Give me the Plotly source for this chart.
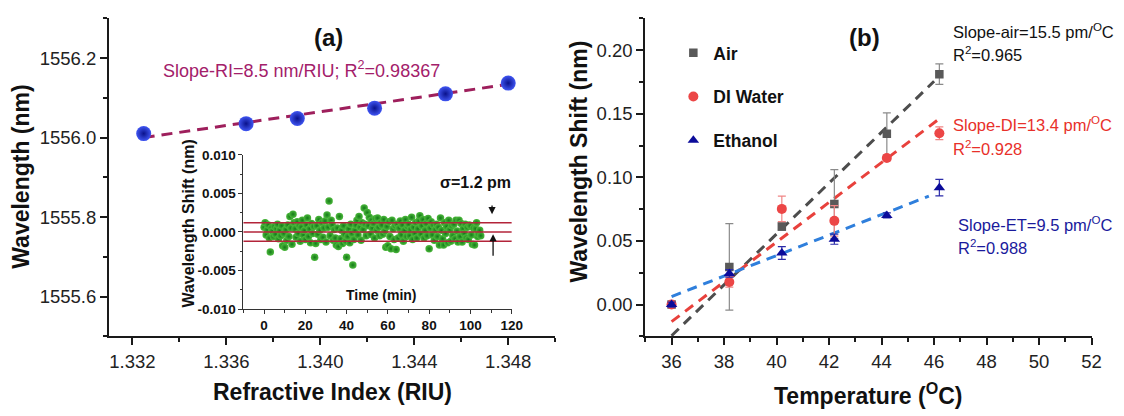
import plotly.graph_objects as go

W, H = 1124, 416
FONT = "Liberation Sans, Arial, sans-serif"

# ---------------- Panel (a): resonance wavelength vs refractive index ----------------
ri = [1.33248, 1.33684, 1.33902, 1.34231, 1.34533, 1.34800]
wavelength_nm = [1556.010, 1556.035, 1556.048, 1556.074, 1556.110, 1556.137]
ri_fit_x = [1.33248, 1.34800]
ri_fit_y = [1556.000, 1556.134]

# ---------------- Inset: wavelength stability over time ----------------
time_min = [
    0.0, 0.5, 1.0, 1.5, 2.0, 2.5, 3.0, 3.5, 4.0, 4.5,
    5.0, 5.5, 6.0, 6.5, 7.0, 7.5, 8.0, 8.5, 9.0, 9.5,
    10.0, 10.5, 11.0, 11.5, 12.0, 12.5, 13.0, 13.5, 14.0, 14.5,
    15.0, 15.5, 16.0, 16.5, 17.0, 17.5, 18.0, 18.5, 19.0, 19.5,
    20.0, 20.5, 21.0, 21.5, 22.0, 22.5, 23.0, 23.5, 24.0, 24.5,
    25.0, 25.5, 26.0, 26.5, 27.0, 27.5, 28.0, 28.5, 29.0, 29.5,
    30.0, 30.5, 31.0, 31.5, 32.0, 32.5, 33.0, 33.5, 34.0, 34.5,
    35.0, 35.5, 36.0, 36.5, 37.0, 37.5, 38.0, 38.5, 39.0, 39.5,
    40.0, 40.5, 41.0, 41.5, 42.0, 42.5, 43.0, 43.5, 44.0, 44.5,
    45.0, 45.5, 46.0, 46.5, 47.0, 47.5, 48.0, 48.5, 49.0, 49.5,
    50.0, 50.5, 51.0, 51.5, 52.0, 52.5, 53.0, 53.5, 54.0, 54.5,
    55.0, 55.5, 56.0, 56.5, 57.0, 57.5, 58.0, 58.5, 59.0, 59.5,
    60.0, 60.5, 61.0, 61.5, 62.0, 62.5, 63.0, 63.5, 64.0, 64.5,
    65.0, 65.5, 66.0, 66.5, 67.0, 67.5, 68.0, 68.5, 69.0, 69.5,
    70.0, 70.5, 71.0, 71.5, 72.0, 72.5, 73.0, 73.5, 74.0, 74.5,
    75.0, 75.5, 76.0, 76.5, 77.0, 77.5, 78.0, 78.5, 79.0, 79.5,
    80.0, 80.5, 81.0, 81.5, 82.0, 82.5, 83.0, 83.5, 84.0, 84.5,
    85.0, 85.5, 86.0, 86.5, 87.0, 87.5, 88.0, 88.5, 89.0, 89.5,
    90.0, 90.5, 91.0, 91.5, 92.0, 92.5, 93.0, 93.5, 94.0, 94.5,
    95.0, 95.5, 96.0, 96.5, 97.0, 97.5, 98.0, 98.5, 99.0, 99.5,
    100.0, 100.5, 101.0, 101.5, 102.0, 102.5, 103.0, 103.5, 104.0, 104.5, 105.0,
]
shift_pm = [
    0.6, 1.2, -0.4, 0.3, 0.9, -0.8, -2.6, 0.5, 0.1, -0.6,
    0.7, -0.3, 0.4, 1.0, -0.9, 0.2, -0.5, 0.8, -1.8, -0.2,
    -2.0, 0.3, -1.1, 0.9, -0.6, 2.0, 0.5, -1.6, 2.3, 1.2,
    0.4, -0.7, 1.3, -0.2, 0.8, -1.2, 0.6, 1.5, -0.4, 0.2,
    -1.0, 0.9, 1.8, -0.6, 0.4, -1.4, 1.1, -0.2, 0.7, -3.3,
    -1.5, 0.8, -0.3, 1.6, 0.2, -1.0, 1.2, -0.7, 0.5, 1.4,
    -1.3, 2.2, 0.6, 4.0, -0.5, 1.5, 0.9, -1.1, 0.3, -0.8,
    -1.7, 0.5, -1.9, 2.0, -0.9, 0.2, -1.5, 0.8, -0.3, -1.2,
    -3.3, -0.6, 0.4, -1.4, 1.0, -0.2, -4.3, -1.0, 0.2, 0.9,
    1.5, -0.4, 2.0, 0.6, -1.1, 1.2, 0.3, 3.1, 1.0, -0.5,
    2.5, 0.8, 1.9, -0.3, 1.5, 0.5, 1.1, -0.8, 1.7, 0.2,
    1.8, 0.6, -0.5, 1.2, 0.9, -0.3, 1.6, 0.1, -2.0, 0.7,
    -1.8, 1.3, -0.6, -2.2, 1.5, 0.4, -1.0, 0.8, -2.3, 1.0,
    -0.8, 0.5, 1.4, -0.4, 0.9, -1.2, 0.2, 1.6, -0.6, 0.7,
    1.0, -0.5, 0.3, 1.9, -1.0, 0.6, -0.2, 1.2, -0.8, 0.4,
    1.4, 2.1, -0.3, 0.8, 1.6, -0.8, 0.2, 1.1, -0.5, 1.75,
    -2.2, 0.5, 1.3, -0.4, 0.9, -1.1, 0.3, 1.0, -0.6, 0.6,
    -1.7, 1.8, 0.2, -0.9, -1.7, 1.2, -0.2, 0.7, -1.4, 1.5,
    0.3, -1.2, 0.8, -0.5, 1.0, -0.9, 1.5, 0.1, -1.3, 1.5,
    -0.6, 1.1, -1.3, 0.4, -0.2, 1.0, -0.8, 0.6, -1.0, 0.9,
    0.8, -0.4, -1.6, 0.5, -1.7, 0.4, 1.2, -0.6, -0.3, 0.2, -0.5,
]
shift_nm = [v / 1000.0 for v in shift_pm]
sigma_nm = 0.0012
sigma_levels = [-sigma_nm, 0.0, sigma_nm]
# arrow (tip, tail) pairs marking the +/- sigma band
arrow_down = {"t": 110.5, "tip": 0.0023, "tail": 0.0036}
arrow_up = {"t": 111.0, "tip": -0.0003, "tail": -0.0033}

inset_yticks = [-0.010, -0.005, 0.000, 0.005, 0.010]
inset_yticktext = ["-0.010", "-0.005", "0.000", "0.005", "0.010"]

# ---------------- Panel (b): wavelength shift vs temperature ----------------
temp_c = [36.0, 38.2, 40.2, 42.2, 44.2, 46.2]
air_shift = [0.0, 0.0296, 0.0613, 0.0790, 0.1342, 0.1811]
air_err = [0.0, 0.034, 0.003, 0.027, 0.0165, 0.008]
di_shift = [0.0, 0.0177, 0.0752, 0.0658, 0.1152, 0.1347]
di_err = [0.0, 0.004, 0.010, 0.012, 0.002, 0.005]
et_shift = [0.0, 0.0245, 0.0405, 0.0514, 0.0701, 0.0919]
et_err = [0.002, 0.003, 0.005, 0.004, 0.002, 0.0065]

air_fit_x, air_fit_y = [36.0, 46.0], [-0.0245, 0.1755]
di_fit_x, di_fit_y = [36.0, 46.2], [-0.0134, 0.146]
et_fit_x, et_fit_y = [36.0, 45.8], [0.0063, 0.0852]


def px(x):
    return x / W


def py(y):
    return 1 - y / H


fig = go.Figure()

# ---- panel (a)
fig.add_trace(go.Scatter(
    x=ri_fit_x, y=ri_fit_y, mode="lines", xaxis="x", yaxis="y",
    line=dict(color="#9e1f5c", width=3, dash="11px,7px"), showlegend=False))
fig.add_trace(go.Scatter(
    x=ri, y=wavelength_nm, mode="markers", xaxis="x", yaxis="y",
    marker=dict(size=15, color="#3f55f2",
                gradient=dict(type="radial", color="#0a128c"),
                line=dict(width=0)),
    showlegend=False))

# ---- inset
for lvl in sigma_levels:
    fig.add_shape(type="line", xref="x3 domain", yref="y3", x0=0, x1=1, y0=lvl, y1=lvl,
                  line=dict(color="#b3243a", width=1.5))
fig.add_trace(go.Scatter(
    x=time_min, y=shift_nm, mode="markers", xaxis="x3", yaxis="y3",
    marker=dict(size=7.5, color="#4cb83c", gradient=dict(type="radial", color="#137a18"),
                line=dict(width=0)),
    showlegend=False))

# ---- panel (b) fits
fits = [(air_fit_x, air_fit_y, "#4d4d4d"),
        (di_fit_x, di_fit_y, "#e8413c"),
        (et_fit_x, et_fit_y, "#2f7fdc")]
for fx, fy, col in fits:
    fig.add_trace(go.Scatter(x=fx, y=fy, mode="lines", xaxis="x2", yaxis="y2",
                             line=dict(color=col, width=3, dash="10px,7px"),
                             showlegend=False, hoverinfo="skip"))

series = [
    ("Air", air_shift, air_err, "square", "#595959", "#8a8a8a", 8.5),
    ("DI Water", di_shift, di_err, "circle", "#ec4646", "#f08585", 10),
    ("Ethanol", et_shift, et_err, "triangle-up", "#0b0b9a", "#2a2aa8", 10),
]
for i, (name, ys, es, sym, col, ecol, sz) in enumerate(series):
    fig.add_trace(go.Scatter(
        x=temp_c, y=ys, mode="markers", name=name, xaxis="x2", yaxis="y2",
        error_y=dict(type="data", array=es, visible=True, color=ecol, thickness=1.2, width=4),
        marker=dict(symbol=sym, size=sz, color=col, line=dict(width=0)),
        legendgroup=f"g{i}"))

axis_common = dict(showgrid=False, zeroline=False, showline=True, linecolor="#1a1a1a",
                   linewidth=2, ticks="outside", ticklen=7, tickwidth=2, tickcolor="#1a1a1a",
                   tickfont=dict(family=FONT, size=18.5, color="#222"), mirror=False)
minor_common = dict(ticks="outside", ticklen=4, tickwidth=1.5, tickcolor="#1a1a1a", showgrid=False)

inset_axis = dict(showgrid=False, zeroline=False, showline=True, linecolor="#333",
                  linewidth=1, ticks="outside", ticklen=4, tickwidth=1, tickcolor="#333",
                  tickfont=dict(family=FONT, size=13.5, color="#111", weight="bold"))
inset_minor = dict(ticks="outside", ticklen=2.5, tickwidth=1, tickcolor="#333", showgrid=False)

fig.update_layout(
    width=W, height=H, margin=dict(l=0, r=0, t=0, b=0),
    paper_bgcolor="white", plot_bgcolor="white",
    font=dict(family=FONT, color="#111"),
    xaxis=dict(domain=[px(110), px(560.7)], range=[1.331, 1.350], anchor="y",
               tick0=1.332, dtick=0.004, tickformat=".3f",
               minor=dict(dtick=0.002, tick0=1.332, **minor_common), **axis_common),
    yaxis=dict(domain=[py(341.7), py(11.7)], range=[1555.5, 1556.3], anchor="x",
               tick0=1555.6, dtick=0.2, tickformat=".1f",
               minor=dict(dtick=0.1, tick0=1555.6, **minor_common), **axis_common),
    xaxis2=dict(domain=[px(651.7), px(1102.4)], range=[35, 52], anchor="y2",
                tick0=36, dtick=2, minor=dict(dtick=1, tick0=35, **minor_common), **axis_common),
    yaxis2=dict(domain=[py(341.7), py(11.7)], range=[-0.025, 0.225], anchor="x2",
                tick0=0, dtick=0.05, tickformat=".2f",
                minor=dict(dtick=0.025, tick0=0, **minor_common), **axis_common),
    xaxis3=dict(domain=[px(245.9), px(516.7)], range=[-10, 120], anchor="y3",
                tick0=0, dtick=20, minor=dict(dtick=10, tick0=0, **inset_minor), **inset_axis),
    yaxis3=dict(domain=[py(313.3), py(153.3)], range=[-0.010, 0.010], anchor="x3",
                tickvals=inset_yticks, ticktext=inset_yticktext,
                minor=dict(dtick=0.0025, tick0=0, **inset_minor), **inset_axis),
    legend=dict(x=px(680), y=py(29), xanchor="left", yanchor="top",
                bgcolor="rgba(0,0,0,0)", tracegroupgap=18,
                font=dict(family=FONT, size=17.5, color="#111", weight="bold")),
    showlegend=True,
)

ann = []
# axis titles
ann.append(dict(text="Wavelength (nm)", x=px(21.7), y=py(175.6), textangle=-90,
                font=dict(size=23, weight="bold")))
ann.append(dict(text="Refractive Index (RIU)", x=px(335.5), y=py(399),
                font=dict(size=23, weight="bold")))
ann.append(dict(text="Wavelength Shift (nm)", x=px(585), y=py(160), textangle=-90,
                font=dict(size=23, weight="bold")))
ann.append(dict(text="Temperature (<sup>O</sup>C)", x=px(876.5), y=py(401),
                font=dict(size=23, weight="bold")))
# panel labels
ann.append(dict(text="(a)", x=px(332), y=py(31.7), font=dict(size=24, weight="bold")))
ann.append(dict(text="(b)", x=px(873), y=py(31.7), font=dict(size=24, weight="bold")))
# fit result labels
ann.append(dict(text="Slope-RI=8.5 nm/RIU; R<sup>2</sup>=0.98367", x=px(304.5), y=py(65),
                font=dict(size=18, color="#a3206a")))
lx = px(960)
ann.append(dict(text="Slope-air=15.5 pm/<sup>O</sup>C", x=lx, y=py(25), xanchor="left",
                font=dict(size=16.5, color="#111")))
ann.append(dict(text="R<sup>2</sup>=0.965", x=lx, y=py(48.3), xanchor="left",
                font=dict(size=16.5, color="#111")))
ann.append(dict(text="Slope-DI=13.4 pm/<sup>O</sup>C", x=lx, y=py(121.7), xanchor="left",
                font=dict(size=16.5, color="#e8302a")))
ann.append(dict(text="R<sup>2</sup>=0.928", x=lx, y=py(146.7), xanchor="left",
                font=dict(size=16.5, color="#e8302a")))
ann.append(dict(text="Slope-ET=9.5 pm/<sup>O</sup>C", x=px(965.8), y=py(225), xanchor="left",
                font=dict(size=16.5, color="#1a1a9c")))
ann.append(dict(text="R<sup>2</sup>=0.988", x=px(965.8), y=py(249.3), xanchor="left",
                font=dict(size=16.5, color="#1a1a9c")))
# inset labels
ann.append(dict(text="Wavelength Shift (nm)", x=px(190), y=py(224.5), textangle=-90,
                font=dict(size=16, weight="bold")))
ann.append(dict(text="Time (min)", x=px(385), y=py(298.3), font=dict(size=14, weight="bold")))
ann.append(dict(text="σ=1.2 pm", x=px(480.7), y=py(182.3), font=dict(size=16, weight="bold")))

for a in ann:
    a.setdefault("xref", "paper")
    a.setdefault("yref", "paper")
    a.setdefault("xanchor", "center")
    a.setdefault("yanchor", "middle")
    a.setdefault("showarrow", False)
    a["font"].setdefault("family", FONT)
    a["font"].setdefault("color", "#111")

for arr in (arrow_down, arrow_up):
    ann.append(dict(x=arr["t"], y=arr["tip"], ax=arr["t"], ay=arr["tail"],
                    xref="x3", yref="y3", axref="x3", ayref="y3", text="",
                    showarrow=True, arrowhead=2, arrowsize=1.1, arrowwidth=1.3,
                    arrowcolor="#111"))

fig.update_layout(annotations=ann)
fig.write_html("out.html")
